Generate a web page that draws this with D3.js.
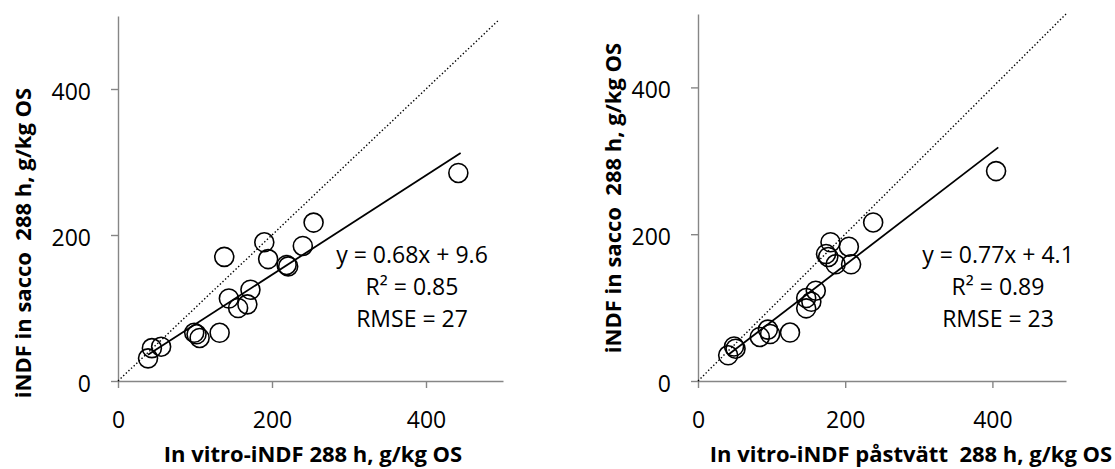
<!DOCTYPE html>
<html>
<head>
<meta charset="utf-8">
<script src="https://cdn.jsdelivr.net/npm/d3@7"></script>
<style>
  body { margin: 0; background: #fff; }
  svg { display: block; }
  .axis text { font-family: "Open Sans", sans-serif; font-size: 23px; fill: #000; }
  .axis path, .axis line { stroke: #868686; stroke-width: 1.4px; }
  .title { font-family: "Open Sans", sans-serif; font-size: 22px; font-weight: bold; fill: #000; }
  .fit { font-family: "Open Sans", sans-serif; font-size: 23px; fill: #000; }
</style>
</head>
<body>
<svg id="chart" width="1115" height="469"></svg>
<script>
// tick values shared by both panels
var tickValues = [0, 200, 400];
var axisDomain = [0, 500];

// left panel: in vitro-iNDF 288 h vs in sacco
var leftX = [442, 254, 240, 190, 195, 138, 219, 221, 172, 144, 156, 168, 132, 99, 102, 106, 39, 44, 56];
var leftY = [285, 217, 185, 190, 167, 170, 159, 157, 125, 113, 100, 105, 66, 66, 64, 59, 31, 45, 47];
var leftFit = [0.68, 9.6];
var leftFitText = ["y = 0.68x + 9.6", "R² = 0.85", "RMSE = 27"];
var leftOneToOne = [0, 495];

// right panel: in vitro-iNDF påstvätt 288 h vs in sacco
var rightX = [405, 238, 205, 180, 174, 177, 187, 208, 160, 147, 154, 147, 125, 95, 98, 84, 41, 49, 51];
var rightY = [286, 216, 183, 189, 173, 169, 159, 159, 123, 113, 108, 99, 66, 70, 64, 60, 35, 47, 44];
var rightFit = [0.77, 4.1];
var rightFitText = ["y = 0.77x + 4.1", "R² = 0.89", "RMSE = 23"];
var rightOneToOne = [0, 500];

var yTitle = "iNDF in sacco\u00a0\u00a0288 h, g/kg OS";

var svg = d3.select("#chart");

function drawPanel(p) {
  var x = d3.scaleLinear().domain(axisDomain).range(p.xRange);
  var y = d3.scaleLinear().domain(axisDomain).range(p.yRange);
  var g = svg.append("g");

  // axes
  var xAxis = g.append("g")
    .attr("class", "axis")
    .attr("transform", "translate(0," + y(0) + ")")
    .call(d3.axisBottom(x).tickValues(tickValues).tickSize(7).tickSizeOuter(0));
  xAxis.selectAll(".tick text").attr("dy", null).attr("y", 47);

  var yAxis = g.append("g")
    .attr("class", "axis")
    .attr("transform", "translate(" + x(0) + ",0)")
    .call(d3.axisLeft(y).tickValues(tickValues).tickSize(7).tickSizeOuter(0).tickPadding(20));
  yAxis.selectAll(".tick text").attr("dy", "0.45em");

  // 1:1 dotted line
  g.append("line")
    .attr("x1", x(p.oneToOne[0])).attr("y1", y(p.oneToOne[0]))
    .attr("x2", x(p.oneToOne[1])).attr("y2", y(p.oneToOne[1]))
    .attr("stroke", "#000")
    .attr("stroke-width", 1.4)
    .attr("stroke-dasharray", "1.4,2.2");

  // regression line over the data range
  var ext = d3.extent(p.xs);
  g.append("line")
    .attr("x1", x(ext[0])).attr("y1", y(p.fit[0] * ext[0] + p.fit[1]))
    .attr("x2", x(ext[1] + 3)).attr("y2", y(p.fit[0] * (ext[1] + 3) + p.fit[1]))
    .attr("stroke", "#000")
    .attr("stroke-width", 1.8);

  // points
  g.selectAll("circle")
    .data(p.xs)
    .join("circle")
      .attr("cx", function (d) { return x(d); })
      .attr("cy", function (d, i) { return y(p.ys[i]); })
      .attr("r", 9.5)
      .attr("fill", "none")
      .attr("stroke", "#000")
      .attr("stroke-width", 1.6);

  // fit text
  g.selectAll("text.fit")
    .data(p.fitText)
    .join("text")
      .attr("class", "fit")
      .attr("x", p.fitX)
      .attr("y", function (d, i) { return 263 + i * 32; })
      .attr("text-anchor", "middle")
      .text(function (d) { return d; });

  // axis titles
  g.append("text")
    .attr("class", "title")
    .attr("transform", "translate(" + p.yTitlePos[0] + "," + p.yTitlePos[1] + ") rotate(-90)")
    .attr("text-anchor", "middle")
    .text(yTitle);

  g.append("text")
    .attr("class", "title")
    .attr("x", p.xTitleX)
    .attr("y", 462)
    .attr("text-anchor", "middle")
    .text(p.xTitle);
}

drawPanel({
  xRange: [118, 503], yRange: [381, 16],
  xs: leftX, ys: leftY, fit: leftFit, fitText: leftFitText, oneToOne: leftOneToOne,
  fitX: 412, yTitlePos: [31, 243], xTitleX: 313,
  xTitle: "In vitro-iNDF 288 h, g/kg OS"
});

drawPanel({
  xRange: [698, 1066], yRange: [381, 14],
  xs: rightX, ys: rightY, fit: rightFit, fitText: rightFitText, oneToOne: rightOneToOne,
  fitX: 998, yTitlePos: [621, 198], xTitleX: 911,
  xTitle: "In vitro-iNDF påstvätt\u00a0\u00a0288 h, g/kg OS"
});
</script>
</body>
</html>
